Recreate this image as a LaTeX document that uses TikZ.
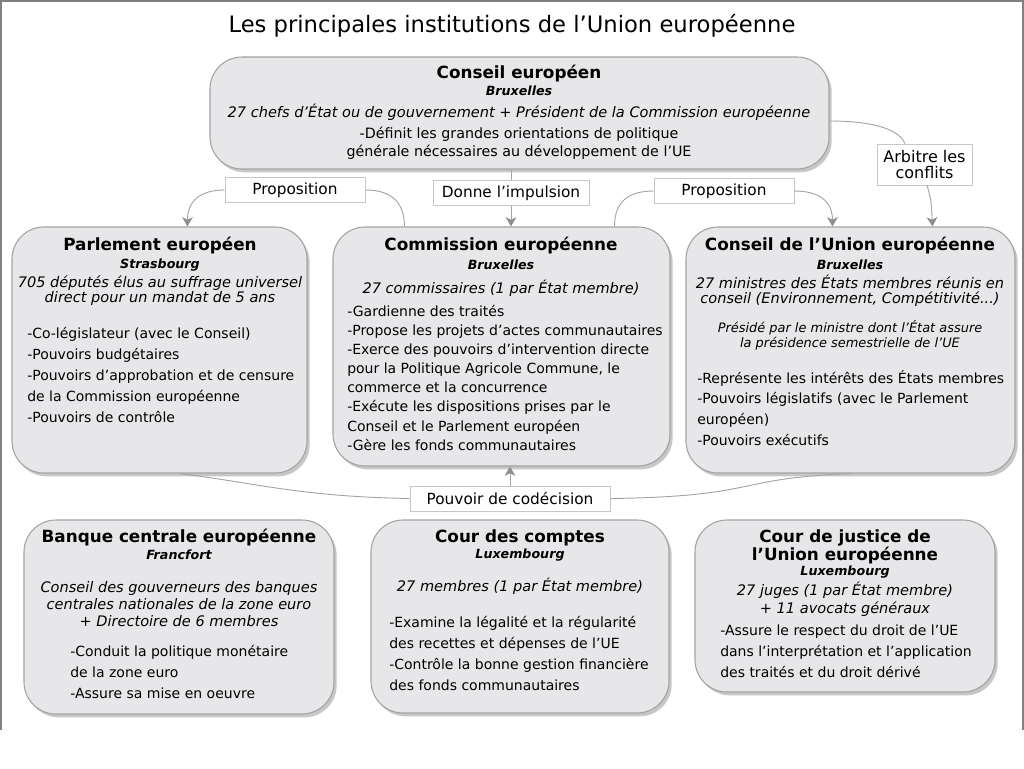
\documentclass[tikz,border=0pt]{standalone}
\usepackage{fontspec}
\setmainfont{DejaVu Sans}
\usetikzlibrary{arrows.meta,shadows,fit}

\definecolor{boxfill}{HTML}{E7E7E9}
\definecolor{boxline}{HTML}{A2A2A2}
\definecolor{linkgray}{HTML}{A4A4A4}
\definecolor{tipgray}{HTML}{8E8E8E}

\begin{document}
\begin{tikzpicture}[x=0.75pt, y=-0.75pt,
    inst/.style={draw=boxline, fill=boxfill, line width=0.8pt, rounded corners=24pt, inner sep=0pt,
      drop shadow={shadow xshift=2pt, shadow yshift=-2.5pt, fill=black, opacity=0.22}},
    tag/.style={draw=black!22, fill=white, line width=0.6pt, inner sep=1pt, minimum height=18.75pt,
      font=\fontsize{11.5}{14}\selectfont},
    instname/.style={inner sep=0pt, font=\fontsize{12.6}{13.5}\selectfont\bfseries, align=center},
    city/.style={inner sep=0pt, font=\fontsize{9.5}{11}\selectfont\bfseries\itshape},
    members/.style={inner sep=0pt, font=\fontsize{10.9}{11.5}\selectfont\itshape, align=center},
    presid/.style={inner sep=0pt, font=\fontsize{9.7}{11.25}\selectfont\itshape, align=center},
    role/.style={inner sep=0pt, font=\fontsize{10.7}{13.5}\selectfont, align=center},
    item/.style={anchor=west, inner sep=0pt, text height=8pt, text depth=2.5pt,
      font=\fontsize{10.5}{12}\selectfont},
    link/.style={draw=linkgray, line width=0.7pt},
    arrowtip/.style={-{Stealth[length=7pt, width=8pt, inset=2pt, color=tipgray]}}
  ]
  \useasboundingbox (0,0) rectangle (1024,768);

  % Frame
  \draw[black!50, line width=1pt] (1,730) -- (1,1) -- (1023,1) -- (1023,730);

  % Title
  \node[font=\fontsize{17}{20}\selectfont] (title) at (512,26) {Les principales institutions de l’Union européenne};

  % Institutions
  \node[inst, fit={(210,57) (829,169)}] (ce) {};
  \node[inst, fit={(12,227) (307,473)}] (parl) {};
  \node[inst, fit={(333,227) (670,466)}] (comm) {};
  \node[inst, fit={(686,227) (1015,473)}] (cue) {};
  \node[inst, fit={(24,520) (334,714)}] (bce) {};
  \node[inst, fit={(371,520) (669,713)}] (cdc) {};
  \node[inst, fit={(695,520) (995,692)}] (cjue) {};

  % Conseil europeen
  \node[instname] (ce-name) at (519,74) {Conseil européen};
  \node[city] (ce-city) at (519,91) {Bruxelles};
  \node[members] (ce-members) at (519,112) {27 chefs d’État ou de gouvernement + Président de la Commission européenne};
  \node[role] (ce-role) at (519,143) {-Définit les grandes orientations de politique\\générale nécessaires au développement de l’UE};

  % Parlement europeen
  \node[instname] (parl-name) at (160,246) {Parlement européen};
  \node[city] (parl-city) at (160,265) {Strasbourg};
  \node[members] (parl-members) at (160,291) {705 députés élus au suffrage universel\\direct pour un mandat de 5 ans};
  \foreach \txt [count=\i] in {-Co-législateur (avec le Conseil), -Pouvoirs budgétaires,
      -Pouvoirs d’approbation et de censure, de la Commission européenne, -Pouvoirs de contrôle}
    \node[item] (parl-\i) at (27,{335+21*(\i-1)}) {\txt};

  % Commission europeenne
  \node[instname] (comm-name) at (501,246) {Commission européenne};
  \node[city] (comm-city) at (501,265) {Bruxelles};
  \node[members] (comm-members) at (501,288) {27 commissaires (1 par État membre)};
  \foreach \txt [count=\i] in {-Gardienne des traités, -Propose les projets d’actes communautaires,
      -Exerce des pouvoirs d’intervention directe, {pour la Politique Agricole Commune, le},
      commerce et la concurrence, -Exécute les dispositions prises par le,
      Conseil et le Parlement européen, -Gère les fonds communautaires}
    \node[item] (comm-\i) at (347,{312.5+19.15*(\i-1)}) {\txt};

  % Conseil de l'UE
  \node[instname] (cue-name) at (850,246) {Conseil de l’Union européenne};
  \node[city] (cue-city) at (850,265) {Bruxelles};
  \node[members] (cue-members) at (850,291) {27 ministres des États membres réunis en\\conseil (Environnement, Compétitivité...)};
  \node[presid] (cue-presid) at (850,335) {Présidé par le ministre dont l’État assure\\la présidence semestrielle de l’UE};
  \foreach \txt [count=\i] in {-Représente les intérêts des États membres, -Pouvoirs législatifs (avec le Parlement,
      européen), -Pouvoirs exécutifs}
    \node[item] (cue-\i) at (697,{379.5+20.7*(\i-1)}) {\txt};

  % Banque centrale europeenne
  \node[instname] (bce-name) at (179,538) {Banque centrale européenne};
  \node[city] (bce-city) at (179,555) {Francfort};
  \node[members, font=\fontsize{10.9}{12.75}\selectfont\itshape] (bce-members) at (179,604) {Conseil des gouverneurs des banques\\centrales nationales de la zone euro\\+ Directoire de 6 membres};
  \foreach \txt [count=\i] in {-Conduit la politique monétaire, de la zone euro, -Assure sa mise en oeuvre}
    \node[item] (bce-\i) at (70,{652.5+21*(\i-1)}) {\txt};

  % Cour des comptes
  \node[instname] (cdc-name) at (520,538) {Cour des comptes};
  \node[city] (cdc-city) at (520,555) {Luxembourg};
  \node[members] (cdc-members) at (520,586) {27 membres (1 par État membre)};
  \foreach \txt [count=\i] in {-Examine la légalité et la régularité, des recettes et dépenses de l’UE,
      -Contrôle la bonne gestion financière, des fonds communautaires}
    \node[item] (cdc-\i) at (389,{623.5+21*(\i-1)}) {\txt};

  % Cour de justice
  \node[instname] (cjue-name) at (845,547) {Cour de justice de\\l’Union européenne};
  \node[city] (cjue-city) at (845,572) {Luxembourg};
  \node[members, font=\fontsize{10.9}{13.5}\selectfont\itshape] (cjue-members) at (845,599) {27 juges (1 par État membre)\\+ 11 avocats généraux};
  \foreach \txt [count=\i] in {-Assure le respect du droit de l’UE, dans l’interprétation et l’application,
      des traités et du droit dérivé}
    \node[item] (cjue-\i) at (720,{632+21*(\i-1)}) {\txt};

  % Relations
  \node[tag, minimum width=117pt] (impulse) at (511,193) {Donne l’impulsion};
  \draw[link] (impulse.north |- ce.south) -- (impulse.north);
  \draw[link, arrowtip] (impulse.south) -- (impulse.south |- comm.north);

  \node[tag, minimum width=105pt] (propL) at (295,190) {Proposition};
  \draw[link] ([xshift=54pt]comm.north west) .. controls +(0,-25) and +(25,0) .. (propL.east);
  \draw[link, arrowtip] (propL.west) .. controls +(-25,0) and +(0,-25) .. ([xshift=132pt]parl.north west);

  \node[tag, minimum width=105pt] (propR) at (724,191) {Proposition};
  \draw[link] ([xshift=211.5pt]comm.north west) .. controls +(0,-25) and +(-25,0) .. (propR.west);
  \draw[link, arrowtip] (propR.east) .. controls +(25,0) and +(0,-25) .. ([xshift=110.25pt]cue.north west);

  \node[tag, minimum width=71.25pt, minimum height=30.75pt, align=center,
    font=\fontsize{12}{12.5}\selectfont] (arbitre) at (924.5,164.5) {Arbitre les\\conflits};
  \draw[link] ([yshift=-6pt]ce.east) .. controls +(50,0) and +(-5,-12) .. ([xshift=-14.6pt]arbitre.north);
  \draw[link, arrowtip] ([xshift=2pt]arbitre.south) .. controls +(4,15) .. ([xshift=185.25pt]cue.north west);

  \node[tag, minimum width=150pt] (codec) at (510,498.5) {Pouvoir de codécision};
  \draw[link, arrowtip] (codec.north) -- (codec.north |- comm.south);
  \draw[link] (codec.west) .. controls +(-110,-2) and +(80,10) .. ([xshift=15pt]parl.south);
  \draw[link] (codec.east) .. controls +(150,-2) and +(-120,5) .. (cue.south);
\end{tikzpicture}
\end{document}
